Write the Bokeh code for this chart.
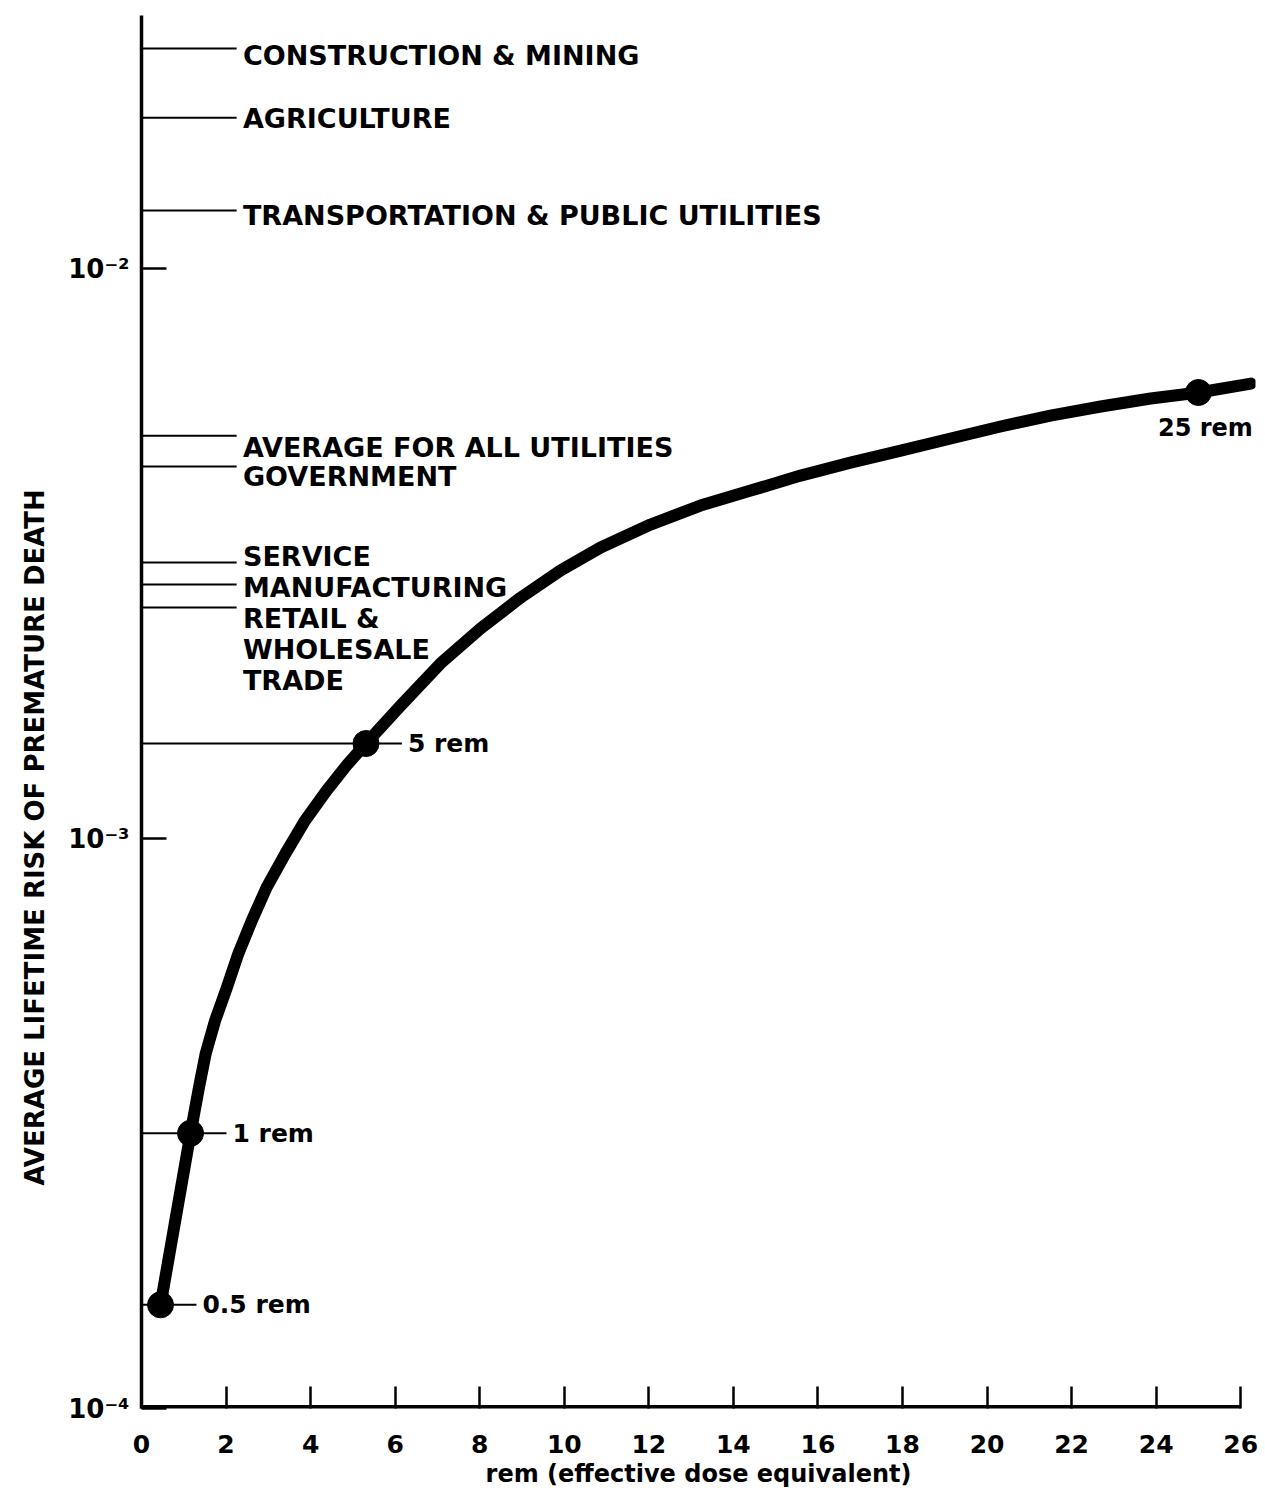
from bokeh.plotting import figure
from bokeh.models import ColumnDataSource, LabelSet, Label, FixedTicker, Range1d, Title
from bokeh.core.properties import value
from bokeh.embed import file_html
from bokeh.resources import INLINE

# ---- data ----
curve_dose = [0.45, 1.16, 1.36, 1.52, 1.74, 2.02, 2.29, 2.61, 2.96, 3.40, 3.87, 4.38,
              4.88, 5.31, 6.13, 7.07, 8.02, 8.97, 9.91, 10.86, 12.04, 13.22, 14.41,
              15.59, 16.77, 17.96, 19.14, 20.32, 21.50, 22.69, 23.87, 25.01, 26.24]
curve_risk = [1.52e-4, 3.04e-4, 3.66e-4, 4.20e-4, 4.79e-4, 5.48e-4, 6.28e-4, 7.18e-4,
              8.21e-4, 9.40e-4, 1.076e-3, 1.214e-3, 1.352e-3, 1.468e-3, 1.711e-3,
              2.028e-3, 2.336e-3, 2.647e-3, 2.953e-3, 3.240e-3, 3.556e-3, 3.839e-3,
              4.078e-3, 4.333e-3, 4.567e-3, 4.794e-3, 5.033e-3, 5.283e-3, 5.523e-3,
              5.728e-3, 5.916e-3, 6.062e-3, 6.285e-3]

point_dose = [0.45, 1.16, 5.31, 25.0]
point_risk = [1.52e-4, 3.04e-4, 1.468e-3, 6.062e-3]
point_labels = ["0.5 rem", "1 rem", "5 rem", "25 rem"]

industries = ["CONSTRUCTION & MINING", "AGRICULTURE",
              "TRANSPORTATION & PUBLIC UTILITIES", "AVERAGE FOR ALL UTILITIES",
              "GOVERNMENT", "SERVICE", "MANUFACTURING", "RETAIL &\nWHOLESALE\nTRADE"]
industry_risk = [0.02432, 0.0184, 0.01264, 5.09e-3, 4.495e-3, 3.05e-3, 2.79e-3, 2.543e-3]

x_ticks = [0, 2, 4, 6, 8, 10, 12, 14, 16, 18, 20, 22, 24, 26]
y_ticks = [1e-4, 1e-3, 1e-2]
y_tick_labels = ["10⁻⁴", "10⁻³", "10⁻²"]

x_title = "rem (effective dose equivalent)"
y_title = "AVERAGE LIFETIME RISK OF PREMATURE DEATH"

# ---- layout constants ----
FONT = "DejaVu Sans"
X_END = 26.35        # frame extends a little past the last tick
LINE_END = 2.25      # end of industry lines (x units)
LABEL_X = 2.4        # start of industry texts
STUB = 0.85          # extension of dose reference lines past the dot
industry_dy = [-7, -1, -5, -12, -10, 6, -3, -42]   # vertical nudges (px, up positive)

p = figure(width=1265, height=1490, x_range=Range1d(0, X_END), y_range=Range1d(1e-4, 0.0278),
           y_axis_type="log", output_backend="svg", toolbar_location=None,
           min_border_left=141, min_border_right=10, min_border_top=15, min_border_bottom=82)
p.outline_line_color = None
p.grid.visible = False
p.background_fill_color = "white"
p.border_fill_color = "white"

# x axis (its line drawn as a glyph so that it stops at the last tick)
xa = p.xaxis[0]
xa.ticker = FixedTicker(ticks=x_ticks)
xa.major_tick_in = 22
xa.major_tick_out = 0
xa.minor_tick_line_color = None
xa.axis_line_color = None
xa.major_tick_line_width = 2.5
xa.major_label_text_font = FONT
xa.major_label_text_font_style = "bold"
xa.major_label_text_font_size = "25px"
xa.major_label_text_color = "black"
xa.major_label_standoff = 26
xa.axis_label = x_title
xa.axis_label_text_font = FONT
xa.axis_label_text_font_style = "bold"
xa.axis_label_text_font_size = "24px"
xa.axis_label_text_color = "black"
xa.axis_label_standoff = 4
p.segment(x0=[x_ticks[0]], y0=[y_ticks[0]], x1=[x_ticks[-1]], y1=[y_ticks[0]],
          line_color="black", line_width=7)

# y axis
ya = p.yaxis[0]
ya.ticker = FixedTicker(ticks=y_ticks)
overrides = {}
for t, lab in zip(y_ticks, y_tick_labels):
    overrides[t] = lab
ya.major_label_overrides = overrides
ya.major_tick_in = 25
ya.major_tick_out = 0
ya.minor_tick_line_color = None
ya.axis_line_width = 3.5
ya.major_tick_line_width = 2.5
ya.major_label_text_font = FONT
ya.major_label_text_font_style = "bold"
ya.major_label_text_font_size = "26px"
ya.major_label_text_color = "black"
ya.major_label_standoff = 12

p.add_layout(Title(text=y_title, align="left", offset=223, standoff=32,
                   text_font=FONT, text_font_style="bold", text_font_size="26px",
                   text_color="black"), "left")

# industry reference lines and labels
ind_src = ColumnDataSource(dict(
    x0=[0] * len(industries), x1=[LINE_END] * len(industries),
    lx=[LABEL_X] * len(industries), y=industry_risk, text=industries, dy=industry_dy))
p.segment(x0="x0", y0="y", x1="x1", y1="y", source=ind_src, line_color="black", line_width=2)
p.add_layout(LabelSet(x="lx", y="y", text="text", source=ind_src, y_offset="dy",
                      text_font=value(FONT), text_font_style="bold", text_font_size="27px",
                      text_color="black", text_baseline="middle", text_align="left",
                      text_line_height=1.0))

# dose reference lines
n_ref = 3
ref_src = ColumnDataSource(dict(
    x0=[0] * n_ref, x1=[d + STUB for d in point_dose[:n_ref]],
    y=point_risk[:n_ref], text=point_labels[:n_ref]))
p.segment(x0="x0", y0="y", x1="x1", y1="y", source=ref_src, line_color="black", line_width=2)
p.add_layout(LabelSet(x="x1", y="y", text="text", source=ref_src, x_offset=6,
                      text_font=value(FONT), text_font_style="bold", text_font_size="25px",
                      text_color="black", text_baseline="middle", text_align="left"))

# risk curve and dose points
p.line(curve_dose, curve_risk, line_color="black", line_width=12,
       line_join="round", line_cap="round")
p.scatter(point_dose, point_risk, size=26, color="black")

p.add_layout(Label(x=point_dose[3], y=point_risk[3], text=point_labels[3],
                   x_offset=7, y_offset=-36, text_font=FONT, text_font_style="bold",
                   text_font_size="24px", text_color="black", text_baseline="middle",
                   text_align="center"))

open("out.html", "w").write(file_html(p, INLINE))
